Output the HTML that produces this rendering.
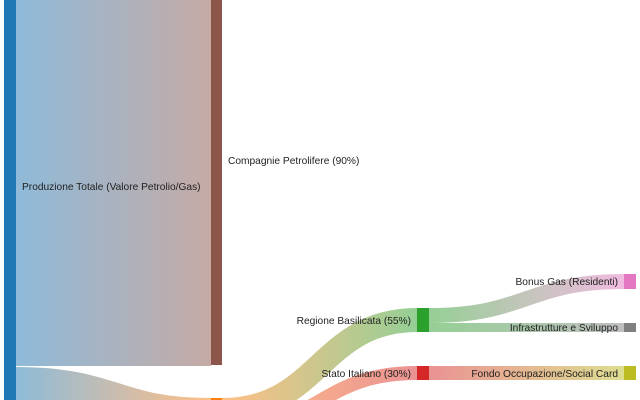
<!DOCTYPE html>
<html><head><meta charset="utf-8"><style>
html,body{margin:0;padding:0;background:#fff;width:640px;height:400px;overflow:hidden;}
svg{display:block;}
text{font-family:"Liberation Sans","DejaVu Sans",sans-serif;font-size:10.2px;fill:#222;}
</style></head><body>
<svg width="640" height="400" viewBox="0 0 640 400">
<defs>
<linearGradient id="g1" gradientUnits="userSpaceOnUse" x1="16" y1="0" x2="211" y2="0"><stop offset="0" stop-color="#1f77b4"/><stop offset="1" stop-color="#8c564b"/></linearGradient>
<linearGradient id="g2" gradientUnits="userSpaceOnUse" x1="16" y1="0" x2="211" y2="0"><stop offset="0" stop-color="#1f77b4"/><stop offset="1" stop-color="#ff7f0e"/></linearGradient>
<linearGradient id="g3" gradientUnits="userSpaceOnUse" x1="222" y1="0" x2="417" y2="0"><stop offset="0" stop-color="#ff7f0e"/><stop offset="1" stop-color="#2ca02c"/></linearGradient>
<linearGradient id="g4" gradientUnits="userSpaceOnUse" x1="222" y1="0" x2="417" y2="0"><stop offset="0" stop-color="#ff7f0e"/><stop offset="1" stop-color="#d62728"/></linearGradient>
<linearGradient id="g5" gradientUnits="userSpaceOnUse" x1="429" y1="0" x2="624" y2="0"><stop offset="0" stop-color="#2ca02c"/><stop offset="1" stop-color="#e377c2"/></linearGradient>
<linearGradient id="g6" gradientUnits="userSpaceOnUse" x1="429" y1="0" x2="624" y2="0"><stop offset="0" stop-color="#2ca02c"/><stop offset="1" stop-color="#7f7f7f"/></linearGradient>
<linearGradient id="g7" gradientUnits="userSpaceOnUse" x1="429" y1="0" x2="624" y2="0"><stop offset="0" stop-color="#d62728"/><stop offset="1" stop-color="#bcbd22"/></linearGradient>
</defs>
<g fill="none" stroke-opacity="0.5">
<path d="M16,183 L211,183" stroke="url(#g1)" stroke-width="366"/>
<path d="M16,390 C113,390 113,421 211,421" stroke="url(#g2)" stroke-width="46"/>
<path d="M222,410 C320,410 320,320 417,320" stroke="url(#g3)" stroke-width="24"/>
<path d="M222,429 C320,429 320,373 417,373" stroke="url(#g4)" stroke-width="14"/>
<path d="M429,315.5 C527,315.5 527,281.5 624,281.5" stroke="url(#g5)" stroke-width="15"/>
<path d="M429,327.5 C527,327.5 527,327.5 624,327.5" stroke="url(#g6)" stroke-width="9"/>
<path d="M429,373 L624,373" stroke="url(#g7)" stroke-width="14"/>
</g>
<rect x="4" y="0" width="12" height="400" fill="#1f77b4"/>
<rect x="211" y="0" width="11" height="365" fill="#8c564b"/>
<rect x="211" y="398" width="11" height="2" fill="#ff7f0e"/>
<rect x="417" y="308" width="12" height="24" fill="#2ca02c"/>
<rect x="417" y="366" width="12" height="14" fill="#d62728"/>
<rect x="624" y="274" width="12" height="15" fill="#e377c2"/>
<rect x="624" y="323" width="12" height="9" fill="#7f7f7f"/>
<rect x="624" y="366" width="12" height="14" fill="#bcbd22"/>
<text x="22" y="190">Produzione Totale (Valore Petrolio/Gas)</text>
<text x="228" y="164">Compagnie Petrolifere (90%)</text>
<text x="411" y="324" text-anchor="end">Regione Basilicata (55%)</text>
<text x="411" y="377" text-anchor="end">Stato Italiano (30%)</text>
<text x="618" y="285" text-anchor="end">Bonus Gas (Residenti)</text>
<text x="618" y="331" text-anchor="end">Infrastrutture e Sviluppo</text>
<text x="618" y="377" text-anchor="end">Fondo Occupazione/Social Card</text>
</svg>
</body></html>
